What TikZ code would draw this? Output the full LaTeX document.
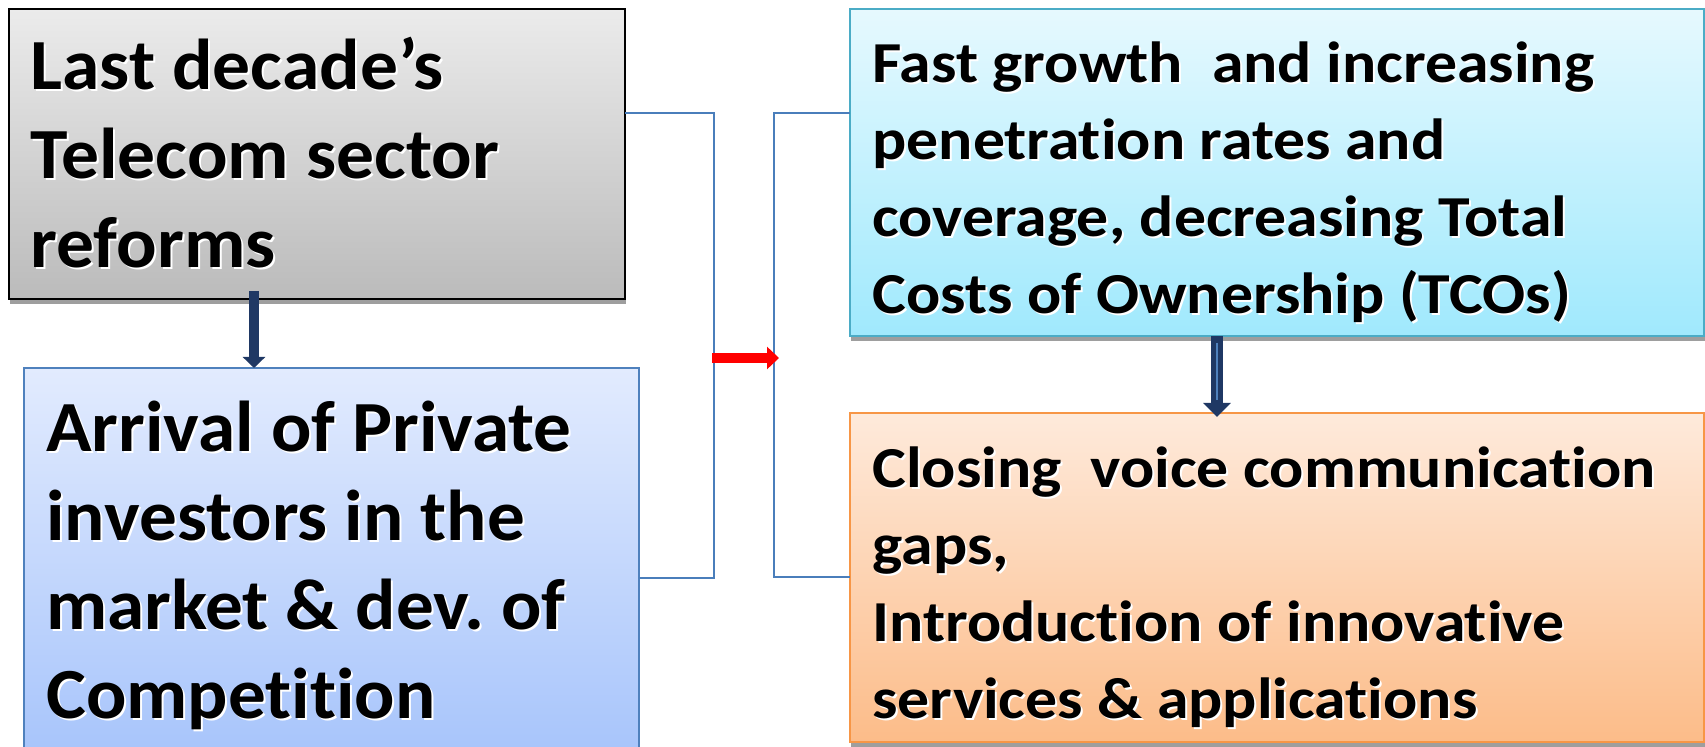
\documentclass[tikz,border=0pt]{standalone}
\usepackage{fontspec}
\setmainfont{Carlito}[Ligatures=NoCommon]
\usetikzlibrary{arrows.meta,shadows}
\definecolor{grayTop}{HTML}{EBEBEB}
\definecolor{grayBot}{HTML}{BBBBBB}
\definecolor{blueTop}{HTML}{E2EBFE}
\definecolor{blueBot}{HTML}{A5C3FB}
\definecolor{blueBorder}{HTML}{4F81BD}
\definecolor{cyanTop}{HTML}{E6F9FE}
\definecolor{cyanBot}{HTML}{A0E9FD}
\definecolor{cyanBorder}{HTML}{4BACC6}
\definecolor{orTop}{HTML}{FEEADB}
\definecolor{orBot}{HTML}{FCBC89}
\definecolor{orBorder}{HTML}{F79646}
\definecolor{navy}{HTML}{1F3864}
\definecolor{connBlue}{HTML}{4A7EBB}
\definecolor{shadowGray}{HTML}{9E9E9E}
\newcommand\bigfnt{\fontsize{36}{44.5}\selectfont\bfseries\frenchspacing}
\newcommand\smallfnt{\fontsize{29}{38.5}\selectfont\bfseries\frenchspacing}
% #1 name, #2 position, #3 font, #4 horizontal scale, #5 lines
\newcommand\shtext[5]{%
  \node[txt,text=white,xshift=1pt,yshift=-1pt] (#1s) at (#2)
    {#3\scalebox{#4}[1]{\begin{tabular}{@{}l@{}}#5\end{tabular}}};
  \node[txt] (#1) at (#2)
    {#3\scalebox{#4}[1]{\begin{tabular}{@{}l@{}}#5\end{tabular}}};}
\begin{document}
\begin{tikzpicture}[x=0.5pt,y=-0.5pt,
  box/.style={anchor=north west,inner sep=0,outer sep=0},
  shad/.style={general shadow={fill=shadowGray,shadow xshift=0.5pt,shadow yshift=-2.5pt}},
  txt/.style={anchor=north west,inner sep=0},
  conn/.style={draw=connBlue,line width=0.8pt},
  navyarrow/.style={draw=navy,line width=#1},
]
\useasboundingbox (0,0) rectangle (1705,747);
\clip (0,0) rectangle (1705,747);

% boxes
\node[box,shad,draw=black,line width=1.2pt,top color=grayTop,bottom color=grayBot,
  minimum width=308pt,minimum height=145pt] (b1) at (9,9) {};
\node[box,draw=blueBorder,line width=0.7pt,top color=blueTop,bottom color=blueBot,
  minimum width=307.5pt,minimum height=201pt] (b2) at (24,368) {};
\node[box,shad,draw=cyanBorder,line width=0.9pt,top color=cyanTop,bottom color=cyanBot,
  minimum width=427pt,minimum height=163.5pt] (b3) at (850,9) {};
\node[box,shad,draw=orBorder,line width=0.9pt,top color=orTop,bottom color=orBot,
  minimum width=427pt,minimum height=164.5pt] (b4) at (850,413) {};

% texts
\shtext{t1}{30,26.7}{\bigfnt}{1.05}{Last decade’s\\Telecom sector\\reforms}
\shtext{t2}{46,388.7}{\bigfnt}{1.045}{Arrival of Private\\investors in the\\market \& dev. of\\Competition}
\shtext{t3}{872,28.1}{\smallfnt}{1.10}{Fast growth\ \ and increasing\\penetration rates and\\coverage, decreasing Total\\Costs of Ownership (TCOs)}
\shtext{t4}{872,433.1}{\smallfnt}{1.10}{Closing\ \ voice communication\\gaps,\\Introduction of innovative\\services \& applications}

% bracket connectors
\coordinate (ja) at (714,113);
\coordinate (jb) at (714,578);
\coordinate (jc) at (774,113);
\coordinate (jd) at (774,577);
\draw[conn] (b1.east |- ja) -- (ja) -- (jb) -- (b2.east |- jb);
\draw[conn] (b3.west |- jc) -- (jc) -- (jd) -- (b4.west |- jd);

% red arrow
\coordinate (ra) at (712,358);
\coordinate (rb) at (779,358);
\draw[red,line width=5pt,-{Triangle[width=11pt,length=6pt]}] (ra) -- (rb);

% navy arrow 1
\coordinate (na) at (254,291);
\draw[navyarrow=5pt,-{Triangle[width=11pt,length=5.5pt]}] (na) -- (na |- b2.north);

% navy arrow 2
\coordinate (nb) at (1217,336);
\coordinate (nc) at (1217,417);
\draw[navyarrow=6pt,-{Triangle[width=13.5pt,length=7pt]}] (nb) -- (nc);
\draw[blueBorder,line width=1pt] (1217,343) -- (1217,400);
\end{tikzpicture}
\end{document}
